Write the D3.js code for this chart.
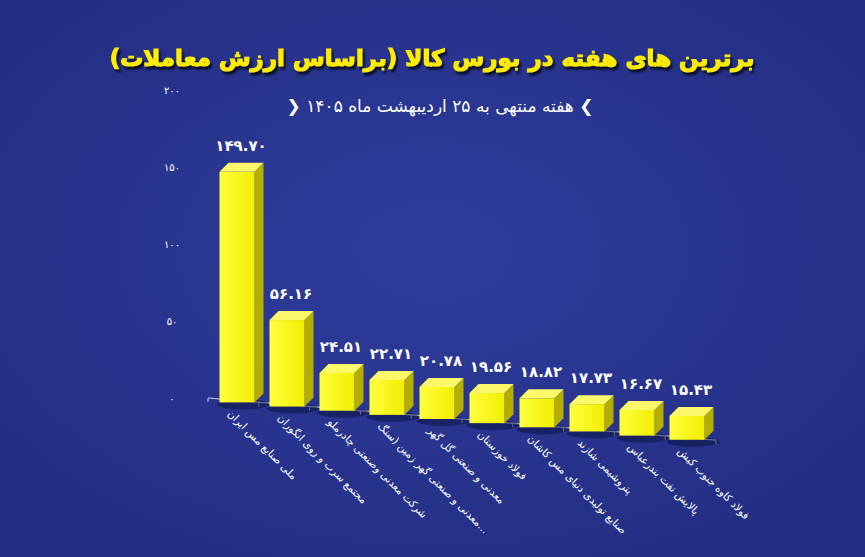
<!DOCTYPE html>
<html><head><meta charset="utf-8">
<script src="https://cdn.jsdelivr.net/npm/d3@7"></script>
<style>body{margin:0;background:#27338f}</style></head>
<body><svg id="c" width="865" height="557"></svg>
<script>
// data
const companies = ["ملی صنایع مس ایران","مجتمع سرب و روی انگوران","شرکت معدنی وصنعتی چادرملو","معدنی و صنعتی گهر زمین (سنگ...","معدنی و صنعتی گل گهر","فولاد خوزستان","صنایع تولیدی دنیای مس کاشان","پتروشیمی شازند","پالایش نفت بندرعباس","فولاد کاوه جنوب کیش"];
const values = [149.70,56.16,24.51,22.71,20.78,19.56,18.82,17.73,16.67,15.43];
const yTicks = [0,50,100,150,200];

const fa = s => String(s).replace(/\d/g, d => "۰۱۲۳۴۵۶۷۸۹"[d]);
const svg = d3.select("#c");
const defs = svg.append("defs");
const bg = defs.append("radialGradient").attr("id","bg").attr("cx","50%").attr("cy","45%").attr("r","70%");
bg.append("stop").attr("offset","0%").attr("stop-color","#2e3c9c");
bg.append("stop").attr("offset","100%").attr("stop-color","#222c80");
svg.append("rect").attr("width",865).attr("height",557).attr("fill","url(#bg)");
const fg = defs.append("linearGradient").attr("id","front").attr("x1",0).attr("x2",1);
fg.append("stop").attr("offset","0%").attr("stop-color","#ffff40");
fg.append("stop").attr("offset","100%").attr("stop-color","#f2ee00");

// title
svg.append("text").attr("x",432).attr("y",66).attr("text-anchor","middle")
  .attr("font-family","DejaVu Sans").attr("font-weight","bold").attr("font-size",23)
  .attr("fill","#ffec00").attr("stroke","#ffec00").attr("stroke-width",1.2)
  .style("filter","drop-shadow(2px 3px 1px rgba(0,0,0,0.7))")
  .text("برترین های هفته در بورس کالا (براساس ارزش معاملات)");
svg.append("text").attr("x",440).attr("y",112).attr("text-anchor","middle")
  .attr("font-family","DejaVu Sans").attr("font-size",17).attr("fill","#fff")
  .text("❯ هفته منتهی به " + fa(25) + " اردیبهشت ماه " + fa(1405) + " ❮");

// scales
const x = d3.scaleBand().domain(companies).range([212,712]).paddingInner(0.3).paddingOuter(0.15);
const y = d3.scaleLinear().domain([0,200]).range([0,308]);
const slope = 0.083, x0 = 208, y0 = 398;
const base = xx => y0 + (xx - x0) * slope;

// y axis labels
svg.selectAll(".yt").data(yTicks).enter().append("text")
  .attr("x",172).attr("y",d => 402 - y(d)).attr("text-anchor","middle")
  .attr("font-family","DejaVu Sans").attr("font-size",10).attr("fill","#fff")
  .text(d => fa(d));

// baseline + ticks
svg.append("line").attr("x1",x0).attr("y1",y0).attr("x2",716).attr("y2",base(716))
  .attr("stroke","#c8cce8").attr("stroke-width",1.2);
const tickXs = d3.range(11).map(i => x0 + i*(716-x0)/10);
svg.selectAll(".tk").data(tickXs).enter().append("line")
  .attr("x1",d=>d).attr("x2",d=>d).attr("y1",d=>base(d)).attr("y2",d=>base(d)+4)
  .attr("stroke","#c8cce8");

// bars
const dx = 9, dy = 9, bw = x.bandwidth();
const g = svg.selectAll(".bar").data(companies.map((c,i)=>({c,v:values[i]}))).enter().append("g");
g.each(function(d){
  const gx = x(d.c), bot = base(gx + bw/2) + 2, h = y(d.v), top = bot - h;
  const s = d3.select(this);
  s.append("ellipse").attr("cx",gx+bw/2+6).attr("cy",bot+2).attr("rx",bw*0.75).attr("ry",5).attr("fill","rgba(10,15,60,0.5)");
  s.append("polygon").attr("points",`${gx+bw},${top} ${gx+bw+dx},${top-dy} ${gx+bw+dx},${bot-dy} ${gx+bw},${bot}`).attr("fill","#b5ad00");
  s.append("polygon").attr("points",`${gx},${top} ${gx+dx},${top-dy} ${gx+bw+dx},${top-dy} ${gx+bw},${top}`).attr("fill","#fbf86a");
  s.append("rect").attr("x",gx).attr("y",top).attr("width",bw).attr("height",h).attr("fill","url(#front)");
  s.append("text").attr("x",gx+bw/2+4).attr("y",top-dy-12).attr("text-anchor","middle")
    .attr("font-family","DejaVu Sans").attr("font-weight","bold").attr("font-size",15).attr("fill","#fff")
    .text(fa(d.v.toFixed(2)));
  const lx = gx + bw/2 - 10, ly = base(gx+bw/2) + 14;
  s.append("text").attr("transform",`translate(${lx},${ly}) rotate(45)`).attr("text-anchor","start")
    .attr("font-family","DejaVu Sans").attr("font-size",10.5).attr("fill","#fff").text(d.c);
});
</script></body></html>
